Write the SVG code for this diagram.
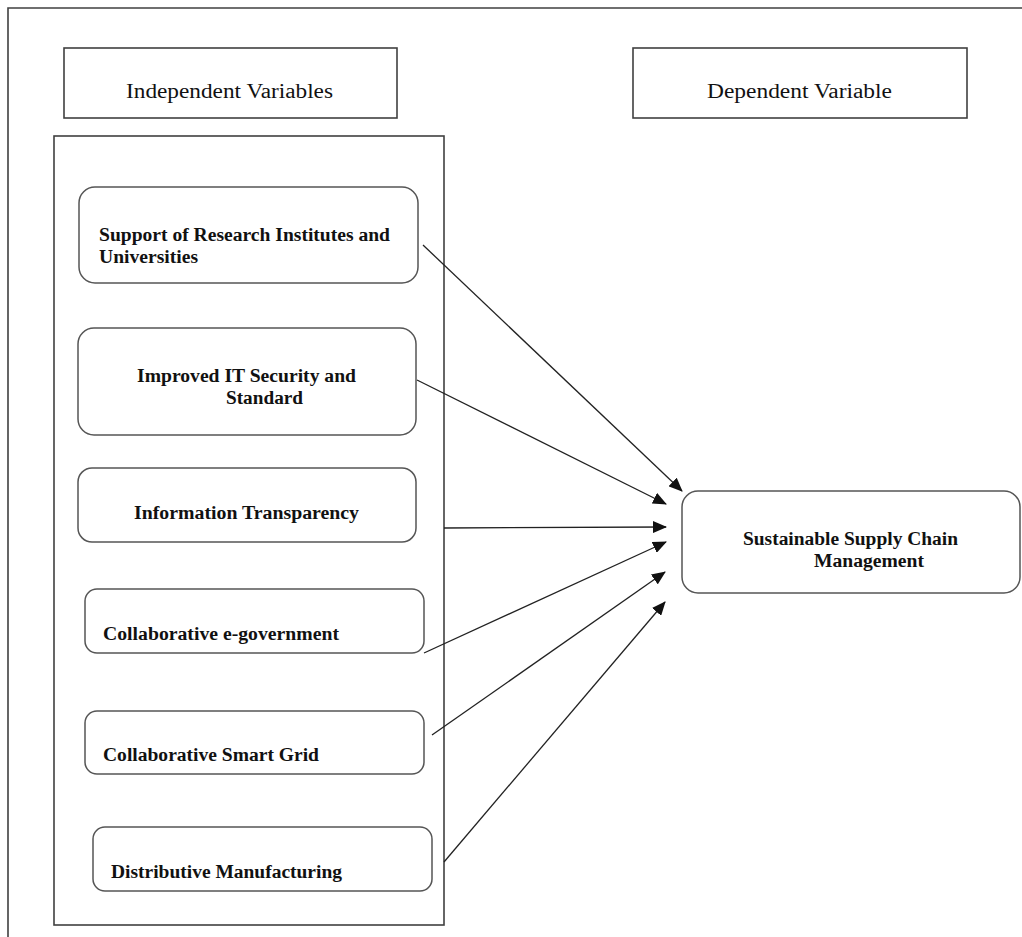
<svg xmlns="http://www.w3.org/2000/svg" width="1022" height="937" viewBox="0 0 1022 937">
<style>
.frame{fill:none;stroke:#404040;stroke-width:1.6}
.hdr{fill:#fff;stroke:#404040;stroke-width:1.6}
.node{fill:#fff;stroke:#555;stroke-width:1.5}
.t{font-family:"Liberation Serif","Times New Roman",serif;fill:#111}
.h{font-size:20px}
.b{font-size:18px;font-weight:bold}
.c{stroke:#222;stroke-width:1.3;fill:none;marker-end:url(#ah)}
</style>
<defs>
<marker id="ah" markerWidth="14" markerHeight="12" refX="13" refY="6" orient="auto" markerUnits="userSpaceOnUse">
<path d="M0,0 L14,6 L0,12 Z" fill="#111"/>
</marker>
</defs>
<rect width="1022" height="937" fill="#fff"/>
<path class="frame" d="M8,937 V8 H1022"/>
<g id="independent-header">
<rect class="hdr" x="64" y="48" width="333" height="70"/>
<text class="t h" x="126" y="98" textLength="207" lengthAdjust="spacingAndGlyphs">Independent Variables</text>
</g>
<g id="dependent-header">
<rect class="hdr" x="633" y="48" width="334" height="70"/>
<text class="t h" x="707" y="98" textLength="185" lengthAdjust="spacingAndGlyphs">Dependent Variable</text>
</g>
<g id="container">
<rect class="frame" x="54" y="136" width="390" height="789"/>
</g>
<g id="n1">
<rect class="node" x="79" y="187" width="339" height="96" rx="16"/>
<text class="t b" x="99" y="241" textLength="291" lengthAdjust="spacingAndGlyphs">Support of Research Institutes  and</text>
<text class="t b" x="99" y="263" textLength="99" lengthAdjust="spacingAndGlyphs">Universities</text>
</g>
<g id="n2">
<rect class="node" x="78" y="328" width="338" height="107" rx="16"/>
<text class="t b" x="137" y="382" textLength="219" lengthAdjust="spacingAndGlyphs">Improved IT Security and</text>
<text class="t b" x="226" y="404" textLength="77" lengthAdjust="spacingAndGlyphs">Standard</text>
</g>
<g id="n3">
<rect class="node" x="78" y="468" width="338" height="74" rx="14"/>
<text class="t b" x="134" y="519" textLength="225" lengthAdjust="spacingAndGlyphs">Information Transparency</text>
</g>
<g id="n4">
<rect class="node" x="85" y="589" width="339" height="64" rx="12"/>
<text class="t b" x="103" y="640" textLength="236" lengthAdjust="spacingAndGlyphs">Collaborative e-government</text>
</g>
<g id="n5">
<rect class="node" x="85" y="711" width="339" height="63" rx="12"/>
<text class="t b" x="103" y="761" textLength="216" lengthAdjust="spacingAndGlyphs">Collaborative Smart Grid</text>
</g>
<g id="n6">
<rect class="node" x="93" y="827" width="339" height="64" rx="12"/>
<text class="t b" x="111" y="878" textLength="231" lengthAdjust="spacingAndGlyphs">Distributive Manufacturing</text>
</g>
<g id="sscm">
<rect class="node" x="682" y="491" width="338" height="102" rx="16"/>
<text class="t b" x="743" y="545" textLength="215" lengthAdjust="spacingAndGlyphs">Sustainable Supply  Chain</text>
<text class="t b" x="814" y="567" textLength="110" lengthAdjust="spacingAndGlyphs">Management</text>
</g>
<g id="connectors">
<line class="c" x1="423" y1="245" x2="682" y2="491"/>
<line class="c" x1="417" y1="380" x2="666" y2="504"/>
<line class="c" x1="444" y1="528" x2="666" y2="527"/>
<line class="c" x1="424" y1="653" x2="666" y2="542"/>
<line class="c" x1="432" y1="735" x2="665" y2="572"/>
<line class="c" x1="444" y1="862" x2="665" y2="602"/>
</g>
</svg>
